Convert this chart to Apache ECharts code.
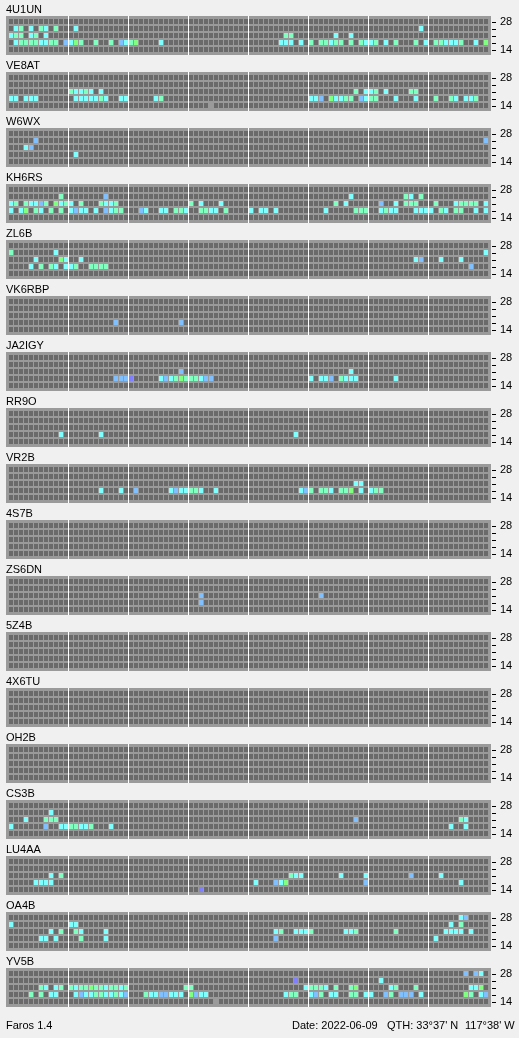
<!DOCTYPE html>
<html>
<head>
<meta charset="utf-8">
<script src="https://cdn.jsdelivr.net/npm/echarts@6/dist/echarts.min.js"></script>
<style>
  html, body { margin: 0; padding: 0; background: #f0f0f0; }
  #chart { width: 519px; height: 1038px; }
</style>
</head>
<body>
<div id="chart"></div>
<script>
// ---- data ----
const bands = ['14', '18', '21', '24', '28'];           // y tick labels, bottom to top
const stations = ['4U1UN', 'VE8AT', 'W6WX', 'KH6RS', 'ZL6B', 'VK6RBP', 'JA2IGY', 'RR9O', 'VR2B',
                  '4S7B', 'ZS6DN', '5Z4B', '4X6TU', 'OH2B', 'CS3B', 'LU4AA', 'OA4B', 'YV5B'];
const slotCount = 96;                                    // 15-minute slots over 24 h
const hourMarks = [12, 24, 36, 48, 60, 72, 84];          // 3-hour separators (slot index)
// level codes: x = no data, b/l/c/a/g = signal level 1..5
const levelCodes = ['x', 'b', 'l', 'c', 'a', 'g'];
const levelColors = ['#9a9a9a', '#8080ff', '#80c0ff', '#80ffff', '#80ffc0', '#80ff80'];

// each station: heard slots per band, in order 28, 24, 21, 18, 14 MHz ("slot" + level code)
const s4U1UN = ['', '1c 2a 4c 6a 7c 9a 13c 82c', '0c 1a 2a 4c 5a 7c 55a 56a 65c 68c',
  '1c 2a 3a 4a 5a 6c 7c 8a 9a 11l 12c 13g 14a 17a 20a 22l 23c 24a 25g 30c 54c 55c 56c 58c 60a 62a 63a 64c 65a 66a 68a 70a 71c 72c 73a 75c 77a 81a 83c 85a 86a 87c 88c 89c 90a 93c 95g', ''];
const sVE8AT = ['', '', '12a 13c 14c 15a 16c 18c 69a 71c 72c 73a 75c 80a 81a',
  '0c 1c 3c 4c 5c 13c 14c 15c 16c 17c 18a 19c 22c 23c 29c 30a 60c 61c 62l 64g 65c 66c 67a 68a 70l 71c 72a 73a 77c 81c 85a 88a 89c 91c 92c 93a', '40x'];
const sW6WX = ['', '5l 95l', '3c 4l', '13c', ''];
const sKH6RS = ['', '10a 19l 68c 79a 80c 82a',
  '0c 1a 3a 4c 5c 6l 7a 9g 10c 11a 12c 14a 18a 19c 20c 21a 36a 38c 42c 65a 67c 74l 77c 79a 80a 81a 85a 89c 90a 91a 92a 93a 95c',
  '0c 2c 3g 5a 6c 8a 10a 12c 13l 14c 15c 17c 19l 20c 21a 22a 26l 27c 30c 31c 33a 34a 35c 38a 39a 40c 41c 43a 48c 50c 51c 53c 63c 69a 70a 71a 74c 75a 76c 77c 81c 82c 83c 84c 86a 87c 89a 90a 93c 95c', ''];
const sZL6B = ['', '0a 9c 95c', '5c 10g 11c 14c 81c 82l 86c 90c',
  '4c 6a 8a 9c 11c 12c 13a 16a 17a 18a 19a 92l', ''];
const sVK6RBP = ['', '', '', '21l 34l', ''];
const sJA2IGY = ['', '', '34l 68c',
  '21l 22l 23l 24b 30c 31l 32c 33a 34g 35a 36a 37a 38c 39l 40l 60c 62c 63c 64l 66a 67c 68c 69c 77c', ''];
const sRR9O = ['', '', '', '10c 18c 57c', ''];
const sVR2B = ['', '', '69c 70c',
  '18c 22c 25l 32c 33l 34c 35c 36a 37a 38c 41c 58c 59l 60a 62a 63a 64c 66a 67a 68g 70c 72c 73a 74a', ''];
const s4S7B = ['', '', '', '', ''];
const sZS6DN = ['', '', '38l 62l', '38l', ''];
const s5Z4B = ['', '', '', '', ''];
const s4X6TU = ['', '', '', '', ''];
const sOH2B = ['', '', '', '', ''];
const sCS3B = ['', '8c', '3c 7a 8a 9a 69l 90a 91c',
  '0c 7l 10c 11c 12a 13a 14c 15c 16a 20c 88c 91c', ''];
const sLU4AA = ['', '', '8c 10a 56a 57c 58c 66c 71c 80l 86c',
  '5c 6c 7c 8c 49c 53l 54c 55g 71l 90c', '38b'];
const sOA4B = ['90c 91l', '0c 12c 13c 88c 90a',
  '8c 10a 13a 14c 19c 53c 54a 57c 58c 59c 60a 67c 68c 69a 77a 87c 88c 89c 90c 92c',
  '6c 7c 9c 14a 19c 53l 85c', ''];
const sYV5B = ['91l 93l 94c', '57b 74c',
  '6a 7c 9c 10a 12a 13c 14a 15a 16g 17a 18a 19c 20a 21a 22c 23a 35a 36a 59c 60a 61a 62a 63c 65a 68a 69g 76c 77a 81a 92c 93c 94g',
  '4a 6a 8c 9c 13c 14l 15c 16c 17a 18a 19c 20c 21a 22c 23l 27a 28c 29c 30l 31l 32c 33c 34c 36g 37l 38c 39c 55c 56a 57a 60c 61l 62a 64c 65c 68a 69a 71c 72c 75l 76a 78l 79l 80l 82c 91g 92a 94c 95l',
  '41x'];
const spots = [s4U1UN, sVE8AT, sW6WX, sKH6RS, sZL6B, sVK6RBP, sJA2IGY, sRR9O, sVR2B,
               s4S7B, sZS6DN, s5Z4B, s4X6TU, sOH2B, sCS3B, sLU4AA, sOA4B, sYV5B];

// ---- build ----
const FONT = '"Liberation Sans", Arial, sans-serif';
const EMPTY = '#6a6a6a';
const BOX = '#9a9a9a';
const PANEL = 56;

function buildCells(rowsTopDown) {
  const lv = [];
  for (let r = 0; r < bands.length; r++) { lv.push(new Array(slotCount).fill(-1)); }
  rowsTopDown.forEach((str, k) => {
    const r = bands.length - 1 - k;
    str.split(/\s+/).filter(Boolean).forEach(tok => {
      const m = tok.match(/^(\d+)([a-z])$/);
      if (m) lv[r][+m[1]] = levelCodes.indexOf(m[2]);
    });
  });
  const data = [];
  for (let r = 0; r < bands.length; r++)
    for (let c = 0; c < slotCount; c++) data.push([c, r, lv[r][c]]);
  return data;
}

function renderCell(params, api) {
  const c = api.value(0), r = api.value(1), l = api.value(2);
  const p = api.coord([c, r + 1]);
  return {
    type: 'rect',
    shape: { x: Math.round(p[0]), y: Math.round(p[1]) + 1, width: 4, height: 5 },
    style: { fill: l < 0 ? EMPTY : levelColors[l] }
  };
}
function renderMark(params, api) {
  const p = api.coord([api.value(0), 0]);
  const cs = params.coordSys;
  const x = Math.round(p[0]) - 0.5;
  return {
    type: 'line',
    shape: { x1: x, y1: cs.y, x2: x, y2: cs.y + cs.height },
    style: { stroke: '#ffffff', lineWidth: 1 }
  };
}
function renderTick(params, api) {
  const p = api.coord([0, api.value(1)]);
  const cs = params.coordSys;
  const y = Math.round(p[1]) + 0.5;
  const x0 = cs.x + cs.width + 1;
  return {
    type: 'line',
    shape: { x1: x0, y1: y, x2: x0 + 4, y2: y },
    style: { stroke: '#000000', lineWidth: 1 }
  };
}

const yMin = -2 / 7, yMax = -2 / 7 + 39 / 7;
const grids = [], xAxes = [], yAxes = [], series = [], titles = [];
stations.forEach((name, i) => {
  const top = 16 + PANEL * i;
  grids.push({ left: 6, top: top, width: 485, height: 39, show: true,
               backgroundColor: BOX, borderWidth: 0 });
  titles.push({ text: name, left: 6, top: top - 12, padding: 0,
                textStyle: { fontSize: 11, fontWeight: 'normal', color: '#000', fontFamily: FONT } });
  xAxes.push({ type: 'value', gridIndex: i, min: -0.6, max: slotCount + 0.4, show: false });
  yAxes.push({
    type: 'value', gridIndex: i, min: yMin, max: yMax, position: 'right', offset: 1,
    axisLine: { show: false }, splitLine: { show: false }, axisTick: { show: false },
    axisLabel: { show: true, margin: 8, fontSize: 11, color: '#000', fontFamily: FONT,
                 customValues: [0.5, bands.length - 0.5],
                 formatter: v => bands[Math.round(v - 0.5)] }
  });
  series.push({ type: 'custom', xAxisIndex: i, yAxisIndex: i, renderItem: renderCell,
                data: buildCells(spots[i]), silent: true, clip: false });
  series.push({ type: 'custom', xAxisIndex: i, yAxisIndex: i, renderItem: renderMark,
                data: hourMarks.map(k => [k, 0]), silent: true, clip: false, z: 3 });
  series.push({ type: 'custom', xAxisIndex: i, yAxisIndex: i, renderItem: renderTick,
                data: bands.map((b, k) => [0, k + 0.5]), silent: true, clip: false, z: 3 });
});

const chart = echarts.init(document.getElementById('chart'), null, { renderer: 'canvas' });
chart.setOption({
  animation: false,
  backgroundColor: '#f0f0f0',
  title: titles,
  grid: grids,
  xAxis: xAxes,
  yAxis: yAxes,
  series: series,
  graphic: [
    { type: 'text', left: 6, top: 1020, style: { text: 'Faros 1.4', font: '11px ' + FONT, fill: '#000' } },
    { type: 'text', left: 292, top: 1020, style: { text: 'Date: 2022-06-09', font: '11px ' + FONT, fill: '#000' } },
    { type: 'text', left: 387, top: 1020, style: { text: "QTH: 33°37' N", font: '11px ' + FONT, fill: '#000' } },
    { type: 'text', left: 465, top: 1020, style: { text: "117°38' W", font: '11px ' + FONT, fill: '#000' } }
  ]
});
</script>
</body>
</html>
